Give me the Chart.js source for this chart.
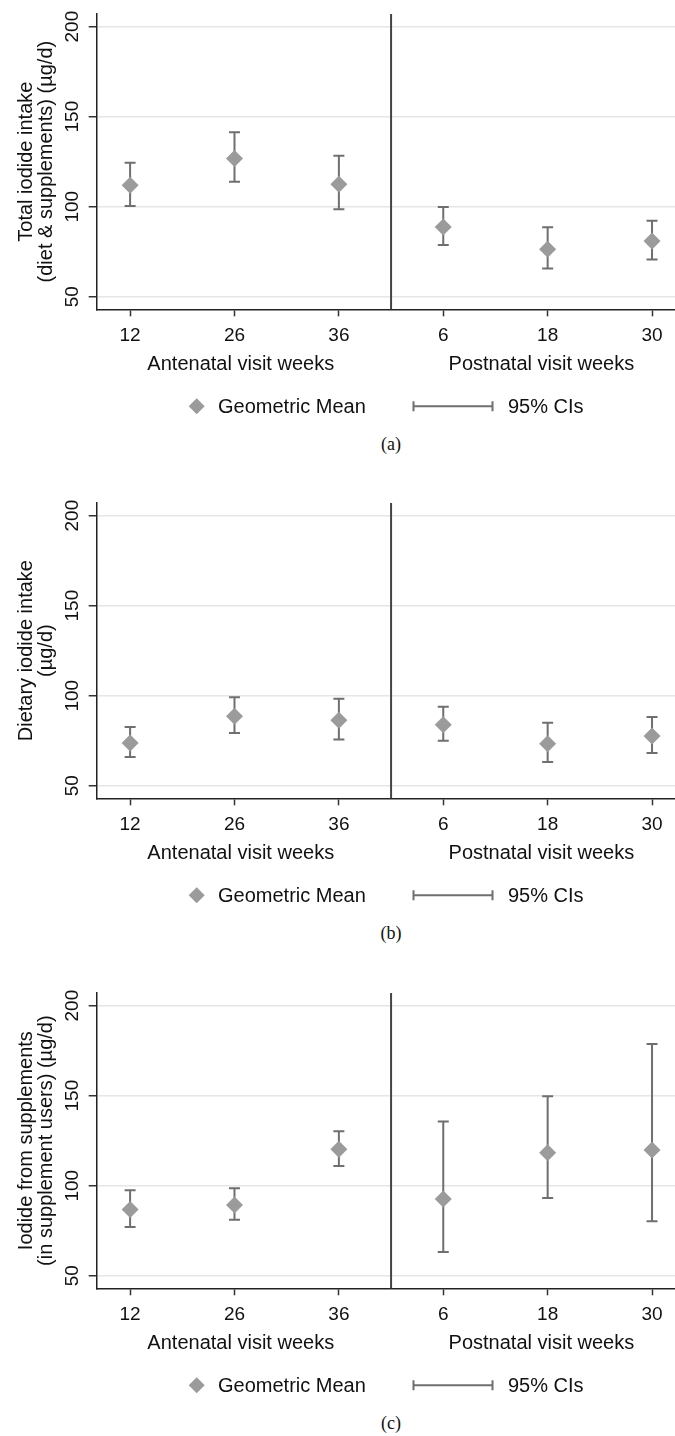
<!DOCTYPE html>
<html>
<head>
<meta charset="utf-8">
<title>Iodide intake by visit week</title>
<script src="https://cdn.jsdelivr.net/npm/chart.js@4.4.1/dist/chart.umd.min.js"></script>
<style>
  body { margin: 0; background: #fff; }
  #wrap { position: relative; width: 675px; height: 1436px; overflow: hidden; }
  .panel { position: absolute; left: 0; width: 675px; height: 430px; }
  .cap { position: absolute; left: 341px; width: 100px; text-align: center;
         font-family: 'Liberation Serif', 'DejaVu Serif', serif; font-size: 18px; line-height: 20px; color: #111; }
</style>
</head>
<body>
<div id="wrap">
  <div class="panel" style="top:0px"><canvas id="chartA" width="675" height="430"></canvas></div>
  <div class="cap" style="top:434px">(a)</div>
  <div class="panel" style="top:489px"><canvas id="chartB" width="675" height="430"></canvas></div>
  <div class="cap" style="top:923px">(b)</div>
  <div class="panel" style="top:979px"><canvas id="chartC" width="675" height="430"></canvas></div>
  <div class="cap" style="top:1413px">(c)</div>
</div>
<script>
// categorias (semanas de visita) e ticks do eixo y
const weekLabels = ['12', '26', '36', '6', '18', '30'];
const yTicks = [50, 100, 150, 200];
const groupTitles = ['Antenatal visit weeks', 'Postnatal visit weeks'];
const legendLabels = ['Geometric Mean', '95% CIs'];

// (a) ingestão total (dieta + suplementos)
const totalMean  = [111.9, 126.7, 112.4, 88.7, 76.3, 80.9];
const totalLower = [100.4, 113.9, 98.5, 78.7, 65.6, 70.6];
const totalUpper = [124.4, 141.3, 128.3, 99.8, 88.5, 92.2];

// (b) ingestão pela dieta
const dietMean  = [73.7, 88.5, 86.3, 83.9, 73.3, 77.6];
const dietLower = [65.9, 79.3, 75.6, 75.0, 63.2, 68.2];
const dietUpper = [82.6, 99.1, 98.3, 93.9, 85.0, 88.2];

// (c) iodo de suplementos (usuárias)
const suppMean  = [86.7, 89.2, 120.2, 92.6, 118.3, 119.8];
const suppLower = [77.0, 81.1, 110.9, 63.1, 93.1, 80.3];
const suppUpper = [97.4, 98.5, 130.2, 135.7, 149.6, 178.7];

Chart.defaults.font.family = "'Liberation Sans', Arial, sans-serif";
Chart.defaults.color = '#111';

const markerColor = '#9b9b9b';
const barColor = '#6f6f6f';

function diamond(ctx, x, y, r) {
    ctx.beginPath();
    ctx.moveTo(x, y - r);
    ctx.lineTo(x + r, y);
    ctx.lineTo(x, y + r);
    ctx.lineTo(x - r, y);
    ctx.closePath();
    ctx.fill();
}

// barras de erro + linha que separa pré e pós-natal
const errorBarPlugin = {
    id: 'errorBars',
    beforeDatasetsDraw(chart) {
        const { ctx, chartArea, scales: { x, y } } = chart;
        const ds = chart.data.datasets[0];
        ctx.save();
        // linha vertical entre 36 e 6
        const sep = x.getPixelForValue(2.5);
        ctx.strokeStyle = '#444';
        ctx.lineWidth = 2;
        ctx.beginPath();
        ctx.moveTo(sep, chartArea.top);
        ctx.lineTo(sep, chartArea.bottom);
        ctx.stroke();

        ctx.strokeStyle = barColor;
        ctx.lineWidth = 2;
        const cap = 5.5;
        ds.errLow.forEach((lo, i) => {
            const px = x.getPixelForValue(i);
            const yLo = y.getPixelForValue(lo);
            const yHi = y.getPixelForValue(ds.errHigh[i]);
            ctx.beginPath();
            ctx.moveTo(px, yLo); ctx.lineTo(px, yHi);
            ctx.moveTo(px - cap, yLo); ctx.lineTo(px + cap, yLo);
            ctx.moveTo(px - cap, yHi); ctx.lineTo(px + cap, yHi);
            ctx.stroke();
        });
        ctx.restore();
    },
    afterDraw(chart) {
        const { ctx, chartArea, scales: { x } } = chart;
        const base = chartArea.bottom;
        ctx.save();
        ctx.fillStyle = '#111';
        ctx.font = "20px 'Liberation Sans', Arial, sans-serif";
        ctx.textBaseline = 'middle';
        ctx.textAlign = 'center';
        // títulos dos dois grupos do eixo x
        ctx.fillText(groupTitles[0], x.getPixelForValue(1.06), base + 55);
        ctx.fillText(groupTitles[1], x.getPixelForValue(3.94), base + 55);

        // legenda
        const ly = base + 97;
        ctx.fillStyle = markerColor;
        diamond(ctx, 196.7, ly, 8);
        ctx.fillStyle = '#111';
        ctx.textAlign = 'left';
        ctx.fillText(legendLabels[0], 218, ly + 1);
        ctx.strokeStyle = barColor;
        ctx.lineWidth = 2;
        ctx.beginPath();
        ctx.moveTo(413.5, ly); ctx.lineTo(492.5, ly);
        ctx.moveTo(413.5, ly - 5); ctx.lineTo(413.5, ly + 5);
        ctx.moveTo(492.5, ly - 5); ctx.lineTo(492.5, ly + 5);
        ctx.stroke();
        ctx.fillText(legendLabels[1], 508, ly + 1);
        ctx.restore();
    }
};

function makePanel(canvasId, titleLines, mean, lower, upper) {
    const ctx = document.getElementById(canvasId).getContext('2d');
    return new Chart(ctx, {
        type: 'scatter',
        data: {
            datasets: [{
                label: legendLabels[0],
                data: mean.map((v, i) => ({ x: i, y: v })),
                errLow: lower,
                errHigh: upper,
                pointStyle: 'rectRot',
                pointRadius: 8.5,
                pointHoverRadius: 8.5,
                backgroundColor: markerColor,
                borderWidth: 0
            }]
        },
        options: {
            responsive: false,
            maintainAspectRatio: false,
            animation: false,
            // sem padding automático por causa do raio dos pontos
            layout: { autoPadding: false, padding: { top: 14, left: 0, right: 0, bottom: 0 } },
            scales: {
                x: {
                    type: 'linear',
                    min: -0.32,
                    max: 5.22,
                    afterBuildTicks: (scale) => { scale.ticks = weekLabels.map((_, i) => ({ value: i })); },
                    afterFit: (scale) => { scale.height = 120.7; },
                    ticks: {
                        callback: (v) => weekLabels[v],
                        font: { size: 19 },
                        color: '#111',
                        padding: 8,
                        maxRotation: 0
                    },
                    grid: { drawOnChartArea: false, drawTicks: true, tickLength: 7, tickColor: '#333', tickWidth: 1.5 },
                    border: { color: '#222', width: 1.5 }
                },
                y: {
                    min: 43,
                    max: 207,
                    afterBuildTicks: (scale) => { scale.ticks = yTicks.map(v => ({ value: v })); },
                    afterFit: (scale) => { scale.width = 96.7; },
                    ticks: {
                        font: { size: 19 },
                        color: '#111',
                        minRotation: 90,
                        maxRotation: 90,
                        crossAlign: 'center',
                        padding: 0
                    },
                    grid: { color: '#e6e6e6', lineWidth: 1.5, drawTicks: true, tickLength: 8, tickColor: '#333', tickWidth: 1.5 },
                    border: { color: '#222', width: 1.5 },
                    title: {
                        display: true,
                        text: titleLines,
                        font: { size: 20, lineHeight: 1.04 },
                        color: '#111',
                        padding: { top: 15.6, bottom: 0 }
                    }
                }
            },
            plugins: {
                legend: { display: false },
                tooltip: { enabled: false }
            }
        },
        plugins: [errorBarPlugin]
    });
}

makePanel('chartA', ['Total iodide intake', '(diet & supplements) (µg/d)'], totalMean, totalLower, totalUpper);
makePanel('chartB', ['Dietary iodide intake', '(µg/d)'], dietMean, dietLower, dietUpper);
makePanel('chartC', ['Iodide from supplements', '(in supplement users) (µg/d)'], suppMean, suppLower, suppUpper);
</script>
</body>
</html>
